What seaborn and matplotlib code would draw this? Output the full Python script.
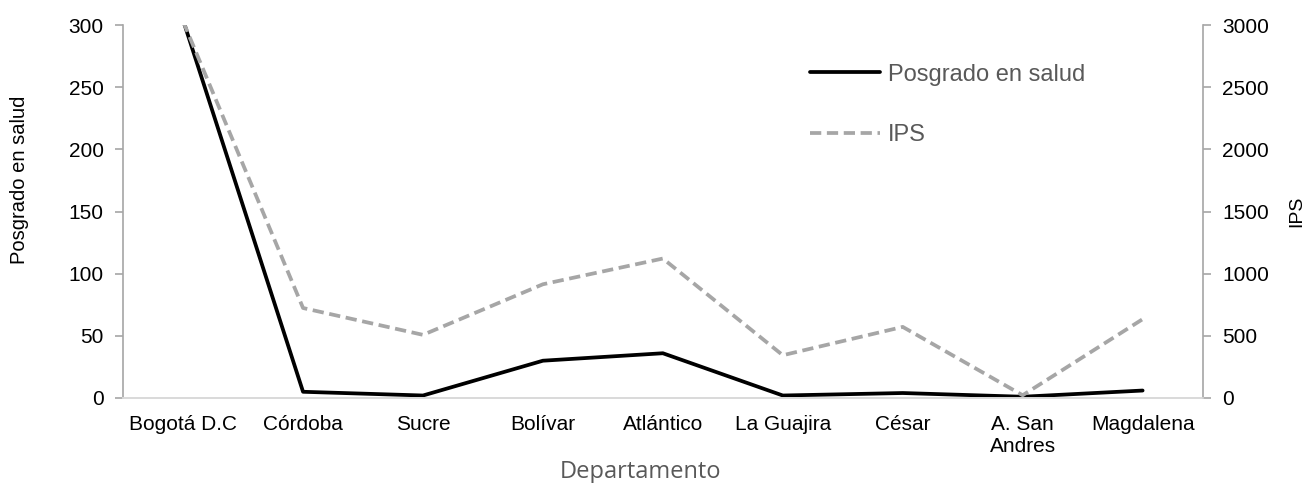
import matplotlib
matplotlib.use("Agg")
import matplotlib.pyplot as plt
import seaborn as sns
import pandas as pd

categories = ["Bogotá D.C", "Córdoba", "Sucre", "Bolívar", "Atlántico",
              "La Guajira", "César", "A. San\nAndres", "Magdalena"]
posgrado = [304, 5, 2, 30, 36, 2, 4, 1, 6]
ips = [3030, 724, 508, 915, 1122, 344, 572, 22, 634]
left_ticks = [0, 50, 100, 150, 200, 250, 300]
right_ticks = [0, 500, 1000, 1500, 2000, 2500, 3000]

sns.set_theme(style="white")
plt.rcParams['font.family'] = ['Liberation Sans', 'DejaVu Sans']

df = pd.DataFrame({"pos": range(len(categories)), "cat": categories,
                   "Posgrado en salud": posgrado, "IPS": ips})

fig = plt.figure(figsize=(13.1, 4.83), dpi=100)
ax = fig.add_axes([0.094, 0.176, 0.824, 0.772])
ax2 = ax.twinx()

sns.lineplot(data=df, x="pos", y="Posgrado en salud", ax=ax, color="black",
             linewidth=2.7, label="Posgrado en salud", legend=False)
sns.lineplot(data=df, x="pos", y="IPS", ax=ax2, color="#A6A6A6",
             linewidth=2.7, linestyle=(0, (3, 1.5)), label="IPS", legend=False)

ax.set_xlim(-0.5, len(categories) - 0.5)
ax.set_ylim(0, 300)
ax2.set_ylim(0, 3000)
ax.set_yticks(left_ticks)
ax2.set_yticks(right_ticks)
ax.set_xticks(range(len(categories)))
ax.set_xticklabels(categories, fontsize=15, color="black")
ax.tick_params(axis="x", length=0, pad=12)
ax.tick_params(axis="y", length=6, width=1.2, color="#A6A6A6", labelsize=15,
               labelcolor="black", pad=8)
ax2.tick_params(axis="y", length=6, width=1.2, color="#A6A6A6", labelsize=15,
                labelcolor="black", pad=8)

for a in (ax, ax2):
    a.spines["top"].set_visible(False)
    a.spines["left"].set_color("#A6A6A6")
    a.spines["right"].set_color("#A6A6A6")
    a.spines["left"].set_linewidth(1.2)
    a.spines["right"].set_linewidth(1.2)
    a.spines["bottom"].set_color("#D9D9D9")
    a.spines["bottom"].set_linewidth(1.2)
    a.grid(False)
ax.spines["right"].set_visible(False)
ax2.spines["left"].set_visible(False)

ax.set_xlabel("Departamento", family=["Open Sans", "DejaVu Sans"], fontsize=17,
              color="#595959")
ax.xaxis.label.set_va("center")
ax.xaxis.set_label_coords(0.4796, -0.198)

ax.set_ylabel("Posgrado en salud", fontsize=14.5, color="black")
ax.yaxis.label.set_va("center")
ax.yaxis.set_label_coords(-0.0963, 0.584)
ax2.set_ylabel("IPS", fontsize=14, color="black")
ax2.yaxis.label.set_va("center")
ax2.yaxis.set_label_coords(1.087, 0.5)

h1, l1 = ax.get_legend_handles_labels()
h2, l2 = ax2.get_legend_handles_labels()
leg = ax2.legend(h1 + h2, l1 + l2, loc="upper left", bbox_to_anchor=(0.636, 0.897),
                 frameon=False, fontsize=17, handlelength=2.97, handletextpad=0.34,
                 labelspacing=1.65, borderpad=0, borderaxespad=0)
for t in leg.get_texts():
    t.set_color("#595959")

fig.savefig("out.png", dpi=100)
